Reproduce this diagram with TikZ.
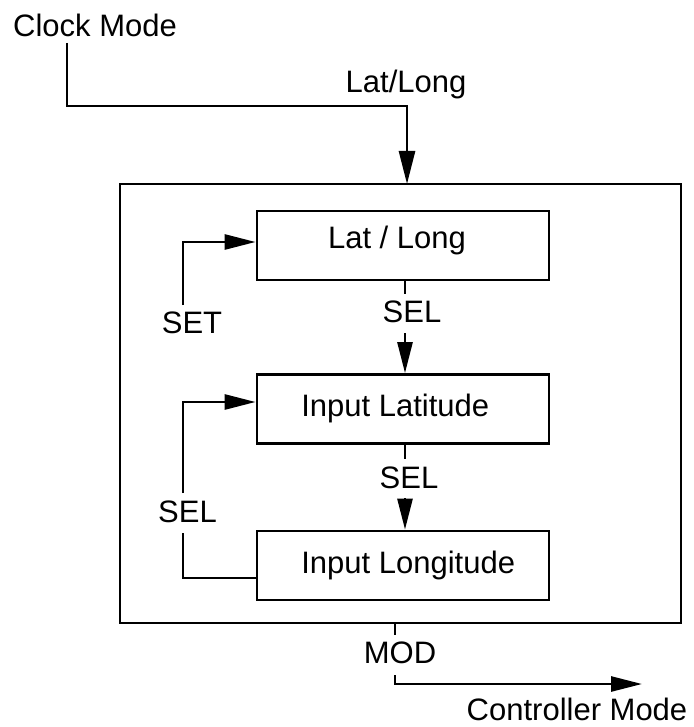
\documentclass[tikz,border=0pt]{standalone}
\usepackage{fontspec}
\setmainfont{Liberation Sans}
\usetikzlibrary{arrows.meta}
\begin{document}
\begin{tikzpicture}[x=1pt,y=-1pt,
  line width=2.7pt,
  every node/.style={font=\fontsize{31}{36}\selectfont},
  statebox/.style={draw,line width=2.8pt,minimum width=292pt,minimum height=69pt,inner sep=0pt},
  tag/.style={anchor=base,inner sep=0pt},
  flow/.style={-{Triangle[length=31pt,width=15pt]}},
  bigflow/.style={-{Triangle[length=33pt,width=16pt]}}]
\useasboundingbox (0,0) rectangle (693,727);

% outer frame
\node[draw,line width=2.6pt,minimum width=561pt,minimum height=439pt,inner sep=0pt] (frame) at (400.5,403.5) {};

% states
\node[statebox] (latlong) at (403,245.5) {};
\node[tag] (latlongtxt) at (397,248) {Lat / Long};
\node[statebox] (inlat) at (403,409) {};
\node[tag,anchor=base west] (inlattxt) at (300,416) {Input Latitude};
\node[statebox] (inlong) at (403,565.5) {};
\node[tag,anchor=base west] (inlongtxt) at (300,573) {Input Longitude};

% labels
\node[tag] (clock) at (95,37) {Clock Mode};
\node[tag] (entry) at (406,93) {Lat/Long};
\node[tag] (set) at (192,333) {SET};
\node[tag] (sela) at (412,322) {SEL};
\node[tag] (selb) at (409,488) {SEL};
\node[tag] (selc) at (187.5,522) {SEL};
\node[tag] (mod) at (400,663) {MOD};
\node[tag] (ctrl) at (577,720) {Controller Mode};

% entry into the frame
\coordinate (c0) at (67,43);
\draw[bigflow] (c0) |- (407,106) -- (407,184);

% SET loop onto Lat / Long
\coordinate (s0) at (183,305);
\draw[flow] (s0) |- (latlong.west |- 0,242);

% SEL transitions
\coordinate (a0) at (405,294);
\coordinate (a1) at (405,333);
\draw (a0 |- latlong.south) -- (a0);
\draw[flow] (a1) -- (a1 |- inlat.north);
\coordinate (b0) at (405,459);
\coordinate (b1) at (405,498);
\draw (b0 |- inlat.south) -- (b0);
\draw[flow] (b1) -- (b1 |- inlong.north);

% SEL loop back to Input Latitude
\coordinate (l0) at (183,533);
\coordinate (l1) at (183,493);
\draw (inlong.west |- 0,578) -| (l0);
\draw[flow] (l1) |- (inlat.west |- 0,402);

% MOD exit
\coordinate (m0) at (395,635);
\coordinate (m1) at (395,675);
\coordinate (m2) at (642,684);
\draw (frame.south -| m0) -- (m0);
\draw[flow] (m1) |- (m2);
\end{tikzpicture}
\end{document}
